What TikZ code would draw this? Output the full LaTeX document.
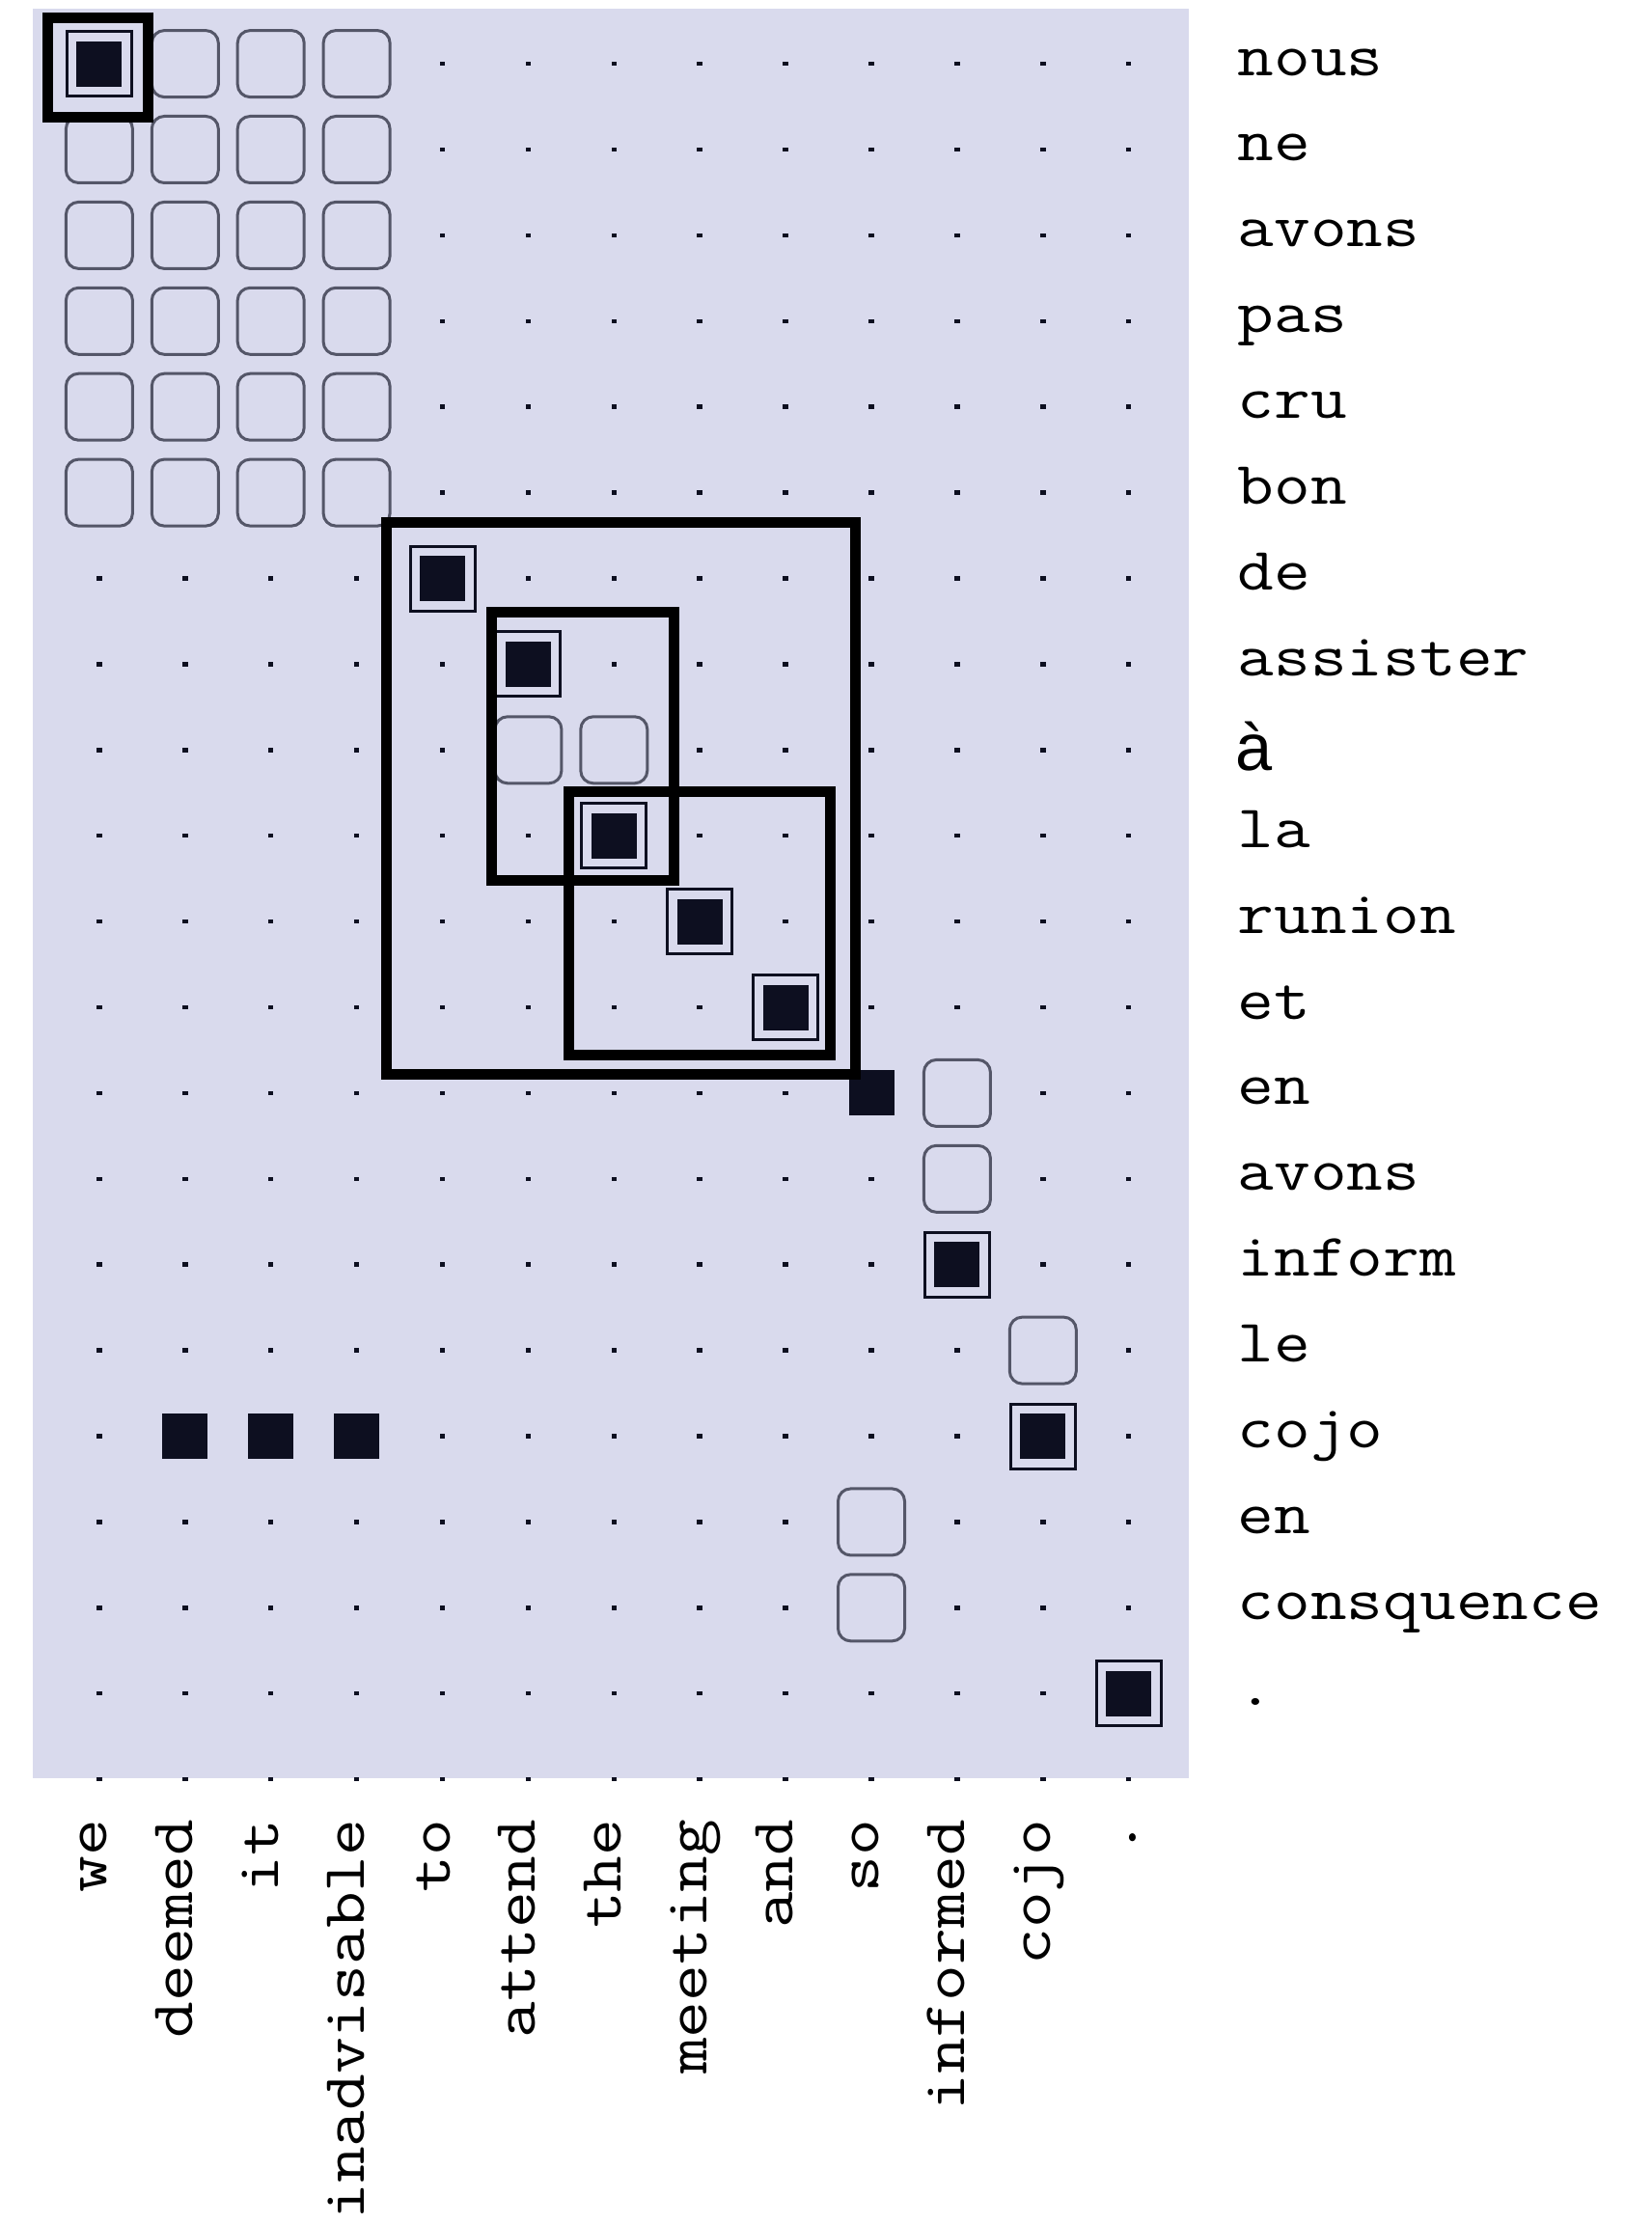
\documentclass[tikz,border=0pt]{standalone}
\usepackage{fontspec}
\newfontfamily\accentfont{Liberation Sans}
\usetikzlibrary{positioning}
\definecolor{grid_bg}{RGB}{217,218,237}
\definecolor{ink_blue}{RGB}{13,15,32}
\definecolor{box_gray}{RGB}{84,86,104}

\begin{document}
\begin{tikzpicture}[x=0.889cm, y=-0.889cm,
		sure_cell/.style={rectangle,fill=ink_blue,inner sep=0pt,minimum size=0.47cm},
		sure_frame/.style={rectangle,draw=ink_blue,fill=grid_bg,line width=0.03cm,inner sep=0pt,minimum size=0.67cm},
		possible_cell/.style={rectangle,rounded corners=0.13cm,draw=box_gray,fill=grid_bg,line width=0.03cm,inner sep=0pt,minimum size=0.69cm},
		grid_dot/.style={rectangle,fill=ink_blue,inner sep=0pt,minimum width=0.055cm,minimum height=0.045cm},
		phrase_box/.style={draw=black,line width=0.11cm},
		src_word/.style={font=\ttfamily\fontsize{17.8}{20}\selectfont,inner sep=0pt,anchor=base west,xscale=1.17},
		tgt_word/.style={font=\ttfamily\fontsize{17.8}{20}\selectfont,inner sep=0pt,rotate=90,xscale=1.17,anchor=mid east}
		]
		
		\useasboundingbox (-1.1575,-0.7435) rectangle (18.089,25.173);
		\fill[grid_bg] (-0.775,-0.643) rectangle (12.706,19.99);
		
		\foreach \c in {0,...,12} \foreach \r in {0,...,20} \node[grid_dot] (d-\c-\r) at (\c,\r) {};
		
		\foreach \c in {1,2,3} \node[possible_cell] (p-\c-0) at (\c,0) {};
		\foreach \c in {0,...,3} \foreach \r in {1,...,5} \node[possible_cell] (p-\c-\r) at (\c,\r) {};
		\foreach \c/\r in {5/8, 6/8, 10/12, 10/13, 11/15, 9/17, 9/18} \node[possible_cell] (p-\c-\r) at (\c,\r) {};
		
		\foreach \c/\r in {0/0, 4/6, 5/7, 6/9, 7/10, 8/11, 10/14, 11/16, 12/19} {
			\node[sure_frame] (f-\c-\r) at (\c,\r) {};
			\node[sure_cell] (s-\c-\r) at (\c,\r) {};
		}
		\foreach \c/\r in {9/12, 1/16, 2/16, 3/16} \node[sure_cell] (s-\c-\r) at (\c,\r) {};
		
		\coordinate (we_nw) at (-0.598,-0.533); \coordinate (we_se) at (0.569,0.627);
		\coordinate (attend_nw) at (3.347,5.351); \coordinate (attend_se) at (8.809,11.777);
		\coordinate (la_nw) at (4.579,6.392); \coordinate (la_se) at (6.700,9.521);
		\coordinate (meeting_nw) at (5.477,8.491); \coordinate (meeting_se) at (8.527,11.552);
		
		\draw[phrase_box] (we_nw) rectangle (we_se);
		\draw[phrase_box] (attend_nw) rectangle (attend_se);
		\draw[phrase_box] (la_nw) rectangle (la_se);
		\draw[phrase_box] (meeting_nw) rectangle (meeting_se);
		
		\foreach \r/\w in {0/nous, 1/ne, 2/avons, 3/pas, 4/cru, 5/bon, 6/de, 7/assister, 9/la, 10/runion, 11/et, 12/en, 13/avons, 14/inform, 15/le, 16/cojo, 17/en, 18/consquence, 19/.}
			\node[src_word] (src-\r) at (13.263,\r+0.135) {\w};
		\node[src_word, xscale=1/1.17, font=\accentfont\fontsize{19.5}{22}\selectfont] (src-8) at (13.24,8.236) {à};
		
		\foreach \c/\w in {0/we, 1/deemed, 2/it, 3/inadvisable, 4/to, 5/attend, 6/the, 7/meeting, 8/and, 9/so, 10/informed, 11/cojo, 12/.}
			\node[tgt_word] (tgt-\c) at (\c,20.46) {\w};
	\end{tikzpicture}
\end{document}
